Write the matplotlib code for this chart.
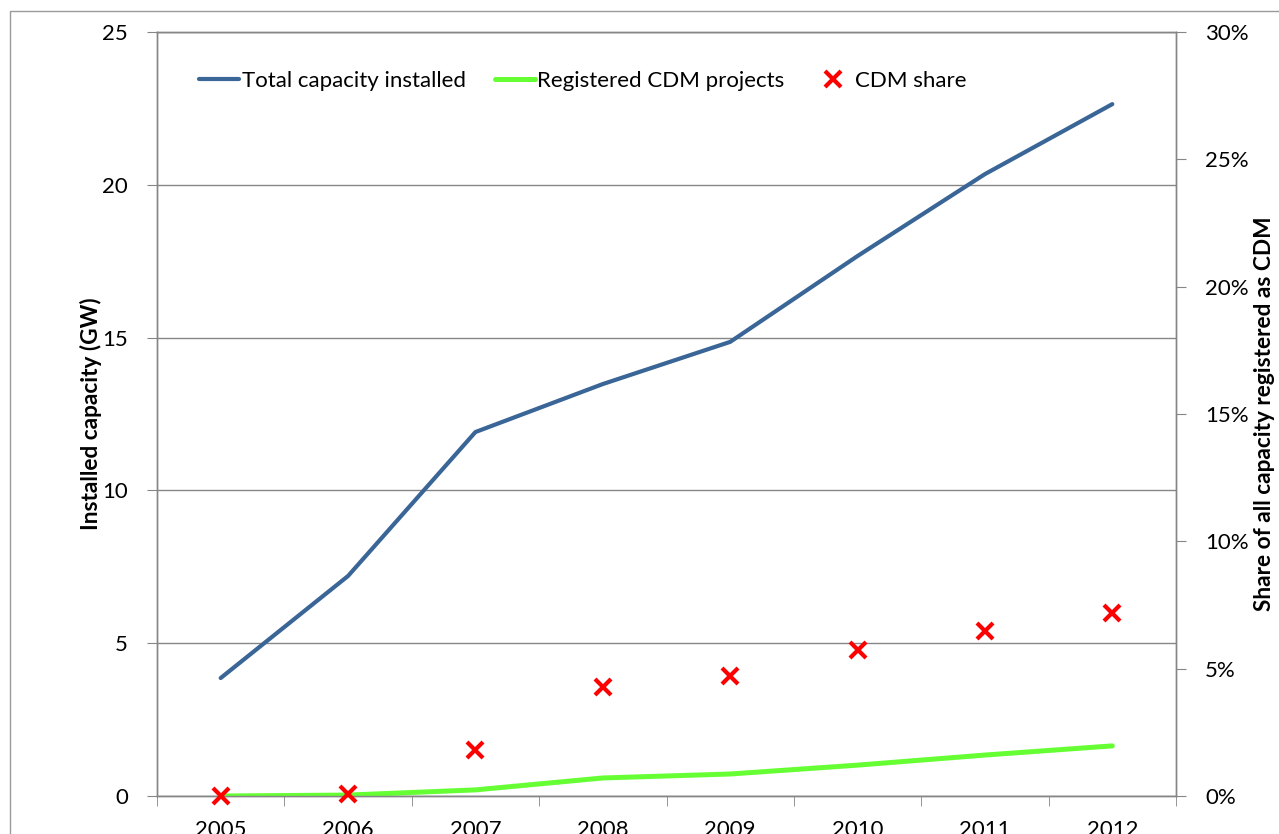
import matplotlib
matplotlib.use("Agg")
import matplotlib.pyplot as plt
from matplotlib.ticker import FuncFormatter, MultipleLocator, FixedLocator
from matplotlib.patches import Rectangle

years = [2005, 2006, 2007, 2008, 2009, 2010, 2011, 2012]
total_capacity = [3.86, 7.2, 11.91, 13.48, 14.86, 17.67, 20.35, 22.64]
cdm_capacity = [0.0, 0.03, 0.2, 0.59, 0.72, 1.01, 1.34, 1.64]
cdm_share = [0.0, 0.0008, 0.018, 0.0428, 0.0471, 0.0573, 0.0648, 0.0718]

plt.rcParams['font.family'] = ['Lato', 'DejaVu Sans']
FS = 16
FSL = 16.3
GRAY = '#868686'

fig = plt.figure(figsize=(12.79, 8.34), dpi=100)
# outer chart border
fig.patches.append(Rectangle((10/1279, -0.1), 1.2, (834-11)/834 + 0.1, transform=fig.transFigure,
                             fill=False, edgecolor='#9a9a9a', lw=1.0))

ax = fig.add_axes([157/1279, (834-796)/834, (1176-157)/1279, (796-32)/834])
ax2 = ax.twinx()

l1, = ax.plot(years, total_capacity, color='#3A6597', lw=3.0, solid_capstyle='round', zorder=3)
l2, = ax.plot(years, cdm_capacity, color='#66FF33', lw=3.6, solid_capstyle='round', zorder=3)
l3, = ax2.plot(years, cdm_share, linestyle='none', marker='x', color='#FF0000', ms=12, mew=3,
               zorder=4, clip_on=False)

ax.set_xlim(2004.5, 2012.5)
ax.set_ylim(0, 25)
ax2.set_ylim(0, 0.30)
ax.yaxis.set_major_locator(MultipleLocator(5))
ax2.yaxis.set_major_locator(MultipleLocator(0.05))
ax2.yaxis.set_major_formatter(FuncFormatter(lambda v, p: f"{round(v*100)}%"))

ax.set_xticks(years)
ax.set_xticklabels([str(y) for y in years])
ax.xaxis.set_minor_locator(FixedLocator([y + 0.5 for y in range(2004, 2013)]))
ax.tick_params(axis='x', which='major', length=0, labelsize=FS, pad=17)
ax.tick_params(axis='x', which='minor', length=7, color=GRAY, direction='out')
ax.tick_params(axis='y', length=7, color=GRAY, labelsize=FS, pad=14)
ax2.tick_params(axis='y', length=7, color=GRAY, labelsize=FS, pad=14)

ax.yaxis.grid(True, color=GRAY, lw=1.0)
ax.set_axisbelow(True)
for a in (ax, ax2):
    for s in a.spines.values():
        s.set_color(GRAY)
        s.set_linewidth(1.0)

ax.set_ylabel('Installed capacity (GW)', fontsize=FSL, fontweight='bold')
ax.yaxis.set_label_coords(-0.054, 0.5)
ax2.set_ylabel('Share of all capacity registered as CDM', fontsize=FSL, fontweight='bold')
ax2.yaxis.set_label_coords(1.0765, 0.5)

ax2.legend([l1, l2, l3], ['Total capacity installed', 'Registered CDM projects', 'CDM share'],
           loc='upper left', bbox_to_anchor=(0.022, 0.975), ncol=3, frameon=False,
           fontsize=FS, handlelength=1.8, handletextpad=0.1, columnspacing=1.3)

fig.savefig('out.png', dpi=100)
